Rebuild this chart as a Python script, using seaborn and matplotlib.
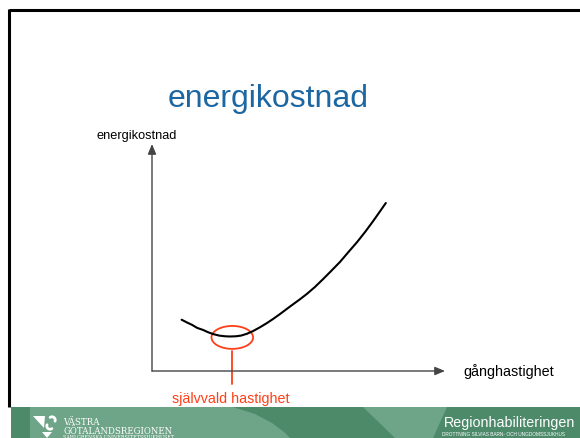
import numpy as np
import matplotlib
matplotlib.use('Agg')
import matplotlib.pyplot as plt
import seaborn as sns
from matplotlib.patches import Ellipse, Polygon, Rectangle

# curve (speed vs energy cost, arbitrary units 0..10)
speed = [1.01, 1.19, 1.37, 1.54, 1.74, 1.91, 2.08, 2.29, 2.49, 2.66, 2.87,
         3.04, 3.24, 3.45, 3.69, 3.92, 4.13, 4.37, 4.71, 5.05, 5.29, 5.56,
         5.84, 6.11, 6.42, 6.69, 7.0, 7.27, 7.54, 7.78, 7.98]
cost = [2.26, 2.14, 2.03, 1.90, 1.81, 1.71, 1.63, 1.56, 1.53, 1.52, 1.53,
        1.56, 1.64, 1.76, 1.93, 2.11, 2.29, 2.51, 2.84, 3.16, 3.40, 3.70,
        4.05, 4.40, 4.81, 5.22, 5.68, 6.12, 6.59, 7.03, 7.40]

# marked "self-selected speed" region
chosen_speed = 2.74
chosen_cost = 1.48

title = 'energikostnad'
y_label = 'energikostnad'
x_label = 'gånghastighet'
marker_label = 'självvald hastighet'

W, H = 580, 439
RED = '#ff3f17'
BLUE = '#1c67a2'
GREEN_DARK = '#4c8a6a'
GREEN_LIGHT = '#6ea487'

sns.set_style('white')
plt.rcParams['font.family'] = ['Liberation Sans', 'DejaVu Sans']


def fx(px):
    return px / W


def fy(py):
    return 1 - py / H


fig = plt.figure(figsize=(W / 100, H / 100), dpi=100)
fig.patch.set_facecolor('white')

# background layer in pixel coordinates (slide frame, footer band)
bg = fig.add_axes([0, 0, 1, 1], zorder=0)
bg.set_xlim(0, W)
bg.set_ylim(H, 0)
bg.axis('off')

bg.plot([9, W], [11, 11], color='black', lw=2.2, solid_capstyle='butt')
bg.plot([9, 9], [10, 408], color='black', lw=2.2, solid_capstyle='butt')

bg.add_patch(Rectangle((11, 408), W - 11, H - 408, color=GREEN_DARK, lw=0))
bg.add_patch(Polygon([(30, 408), (233, 408), (255, 415), (272, 424), (284, 433),
                      (290, 439), (30, 439)], color=GREEN_LIGHT, lw=0))
bg.add_patch(Polygon([(363, 408), (447, 408), (433, 439), (395, 439)],
                     color=GREEN_LIGHT, lw=0))

# logo symbol
bg.add_patch(Polygon([(33, 417), (45, 417), (44, 429)], color='white', lw=0))
t = np.linspace(-0.4, 2.2, 30)
bg.plot(52 + 3.2 * np.cos(t), 421 - 3.2 * np.sin(t), color='white', lw=2.0)
t = np.linspace(np.pi - 0.4, np.pi + 2.2, 30)
bg.plot(50 + 3.2 * np.cos(t), 427 - 3.2 * np.sin(t), color='white', lw=2.0)
bg.add_patch(Polygon([(42, 433), (52, 433), (47, 439)], color='white', lw=0))

bg.text(63, 425, 'VÄSTRA', color='white', fontsize=6.2, family='DejaVu Serif',
        va='baseline', ha='left')
bg.text(63, 434, 'GÖTALANDSREGIONEN', color='white', fontsize=6.2,
        family='DejaVu Serif', va='baseline', ha='left')
bg.text(63, 438.6, 'SAHLGRENSKA UNIVERSITETSSJUKHUSET', color='white',
        fontsize=3.4, family='DejaVu Serif', va='baseline', ha='left')

bg.text(575, 427, 'Regionhabiliteringen', color='white', fontsize=10.3,
        va='baseline', ha='right')
bg.text(565, 436, 'DROTTNING SILVIAS BARN- OCH UNGDOMSSJUKHUS', color='white',
        fontsize=3.4, va='baseline', ha='right')

# slide title and axis captions
fig.text(fx(268), fy(107.5), title, color=BLUE, fontsize=23,
         ha='center', va='baseline')
fig.text(fx(137), fy(139), y_label, color='black', fontsize=9.2,
         ha='center', va='baseline')
fig.text(fx(463), fy(376.5), x_label, color='black', fontsize=10.4,
         ha='left', va='baseline')

# chart area
left, right, top, bottom = 152, 445, 145, 372
ax = fig.add_axes([fx(left), fy(bottom), (right - left) / W, (bottom - top) / H],
                  zorder=2)
ax.patch.set_alpha(0)
sns.lineplot(x=speed, y=cost, ax=ax, color='black', linewidth=1.5, sort=False)
ax.set_xlim(0, 10)
ax.set_ylim(0, 10)
ax.set_xticks([])
ax.set_yticks([])
ax.set_xlabel('')
ax.set_ylabel('')
for s in ax.spines.values():
    s.set_visible(False)

axis_style = dict(arrowstyle='-|>,head_length=0.6,head_width=0.25',
                  color='#444444', lw=1.0, shrinkA=0, shrinkB=0)
ax.annotate('', xy=(0, 1), xytext=(0, 0), xycoords='axes fraction',
            arrowprops=axis_style)
ax.annotate('', xy=(1, 0), xytext=(0, 0), xycoords='axes fraction',
            arrowprops=axis_style)

ax.add_patch(Ellipse((chosen_speed, chosen_cost), 1.42, 1.01, fill=False,
                     edgecolor=RED, lw=1.3, clip_on=False))
ax.plot([chosen_speed, chosen_speed], [chosen_cost - 0.6, -0.57], color=RED,
        lw=1.3, clip_on=False)
ax.text(chosen_speed - 0.05, -1.37, marker_label, color=RED, fontsize=10.3,
        ha='center', va='baseline', clip_on=False)

fig.savefig('out.png', dpi=100)
